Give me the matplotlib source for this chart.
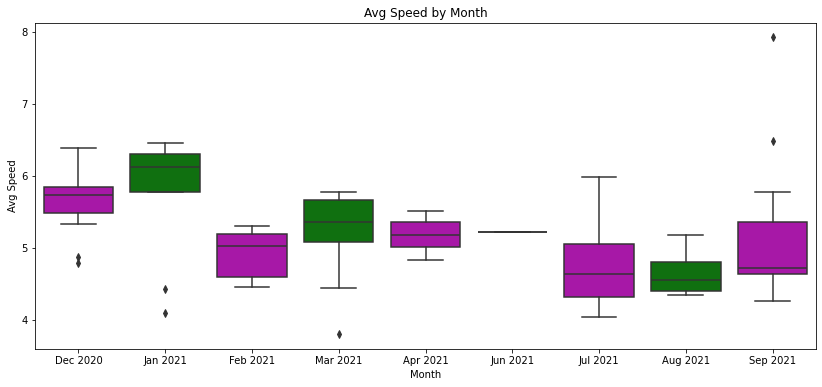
import numpy as np
import matplotlib
matplotlib.use("Agg")
import matplotlib.pyplot as plt

# values
months = ["Dec 2020", "Jan 2021", "Feb 2021", "Mar 2021", "Apr 2021",
          "Jun 2021", "Jul 2021", "Aug 2021", "Sep 2021"]
whislo = [5.34, 5.77, 4.46, 4.44, 4.83, 5.22, 4.04, 4.35, 4.27]
q1 = [5.48, 5.77, 4.60, 5.09, 5.01, 5.22, 4.32, 4.40, 4.64]
med = [5.73, 6.12, 5.03, 5.36, 5.18, 5.22, 4.64, 4.55, 4.73]
q3 = [5.85, 6.31, 5.19, 5.67, 5.36, 5.22, 5.06, 4.80, 5.36]
whishi = [6.38, 6.45, 5.31, 5.77, 5.52, 5.22, 5.98, 5.18, 5.77]
fliers = [[4.88, 4.79], [4.43, 4.10], [], [3.81], [], [], [], [], [7.92, 6.48]]
colors = ["#A718A7", "#107010", "#A718A7", "#107010", "#A718A7",
          "#A718A7", "#A718A7", "#107010", "#A718A7"]

stats = []
for i, m in enumerate(months):
    stats.append({"label": m, "whislo": whislo[i], "q1": q1[i], "med": med[i],
                  "q3": q3[i], "whishi": whishi[i], "fliers": fliers[i]})

line_col = "#333333"

fig = plt.figure(figsize=(822 / 72, 387 / 72), dpi=72)
ax = fig.add_axes([35 / 822, 38 / 387, 781 / 822, 326 / 387])

bp = ax.bxp(stats, positions=np.arange(len(months)), widths=0.8,
            patch_artist=True, showfliers=True,
            boxprops=dict(edgecolor=line_col, linewidth=1.5),
            whiskerprops=dict(color=line_col, linewidth=1.5),
            capprops=dict(color=line_col, linewidth=1.5),
            medianprops=dict(color=line_col, linewidth=1.5),
            flierprops=dict(marker="d", markersize=5, markerfacecolor=line_col,
                            markeredgecolor=line_col, linestyle="none"))
for patch, c in zip(bp["boxes"], colors):
    patch.set_facecolor(c)

ax.set_xlim(-0.5, len(months) - 0.5)
ax.set_ylim(3.6, 8.12)
ax.set_xticks(np.arange(len(months)))
ax.set_xticklabels(months)
ax.set_yticks([4, 5, 6, 7, 8])
ax.tick_params(labelsize=10)
ax.set_title("Avg Speed by Month", fontsize=12)
ax.set_xlabel("Month", fontsize=10)
ax.set_ylabel("Avg Speed", fontsize=10)

fig.savefig("out.png", dpi=72)
